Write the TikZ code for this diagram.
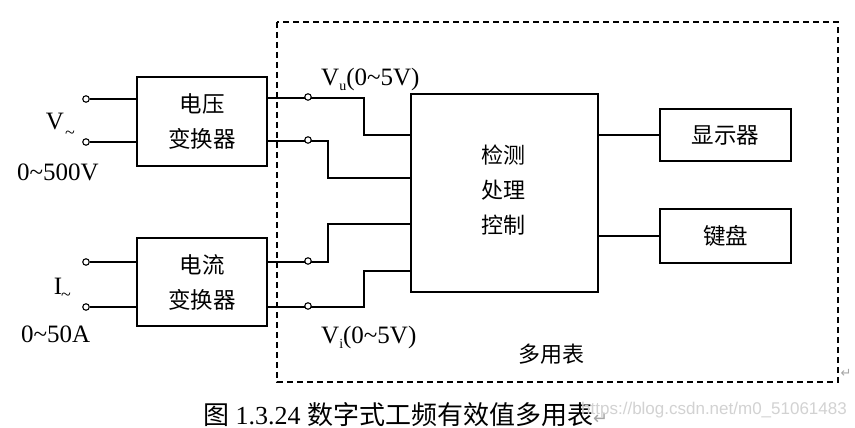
\documentclass[tikz,border=0pt]{standalone}
\usepackage{fontspec}
\setmainfont{Liberation Serif}
\newfontfamily\cjk{Noto Sans CJK SC}
\newfontfamily\symf{DejaVu Sans}
\newfontfamily\wmf{Liberation Sans}
\begin{document}
\begin{tikzpicture}[x=1pt,y=-1pt,
  box/.style={draw,line width=1.4pt,inner sep=0pt,align=center,font=\cjk\fontsize{22.5}{35}\selectfont},
  wire/.style={line width=1.4pt},
  term/.style={circle,draw,line width=1.1pt,fill=white,minimum size=6.5pt,inner sep=0pt},
  lat/.style={font=\fontsize{25}{27}\selectfont,inner sep=0pt},
  cjklab/.style={font=\cjk\fontsize{22}{24}\selectfont,inner sep=0pt}]
\useasboundingbox (0,0) rectangle (855,428);
\fill[white] (0,0) rectangle (855,428);
% outer dashed frame
\draw[line width=1.4pt,dash pattern=on 6pt off 4pt] (277,22) rectangle (838,382);
% boxes
\node[box,minimum width=130pt,minimum height=89pt] (vc) at (202,121.5) {电压\\变换器};
\node[box,minimum width=130pt,minimum height=88pt] (ic) at (202,282) {电流\\变换器};
\node[box,minimum width=187pt,minimum height=198pt] (mc) at (504.5,193) {};
\node[cjklab] (t1) at (503,155) {检测};
\node[cjklab] (t2) at (503,190) {处理};
\node[cjklab] (t3) at (503,225) {控制};
\node[box,minimum width=131pt,minimum height=52pt] (disp) at (725.5,135) {显示器};
\node[box,minimum width=131pt,minimum height=54pt] (kb) at (725.5,236) {键盘};
% input terminals
\node[term] (a1) at (86,99) {};
\node[term] (a2) at (86,142) {};
\node[term] (b1) at (86,262) {};
\node[term] (b2) at (86,307) {};
\draw[wire] (a1) -- (a1 -| vc.west);
\draw[wire] (a2) -- (a2 -| vc.west);
\draw[wire] (b1) -- (b1 -| ic.west);
\draw[wire] (b2) -- (b2 -| ic.west);
% output connections
\coordinate (p1) at (267,98);
\coordinate (p2) at (267,141);
\coordinate (p3) at (267,262);
\coordinate (p4) at (267,307);
\draw[wire] (p1) -- (364,98) -- (364,135) -- (mc.west |- 0,135);
\draw[wire] (p2) -- (328,141) -- (328,178) -- (mc.west |- 0,178);
\draw[wire] (p3) -- (328,262) -- (328,224) -- (mc.west |- 0,224);
\draw[wire] (p4) -- (364,307) -- (364,271) -- (mc.west |- 0,271);
\node[term] (c1) at (308,97) {};
\node[term] (c2) at (308,140) {};
\node[term] (c3) at (308,261) {};
\node[term] (c4) at (308,306) {};
\draw[wire] (mc.east |- disp.west) -- (disp.west);
\draw[wire] (mc.east |- kb.west) -- (kb.west);
% labels
\node[lat] (vl) at (55,122) {V};
\node[lat,font=\fontsize{18}{18}\selectfont] (vt) at (70,135) {\textasciitilde};
\node[lat,anchor=west] (vr) at (17,172) {0\textasciitilde500V};
\node[lat] (il) at (58,286) {I};
\node[lat,font=\fontsize{18}{18}\selectfont] (it) at (66,297) {\textasciitilde};
\node[lat,anchor=west] (ir) at (21,334) {0\textasciitilde50A};
\node[lat,anchor=west] (vu) at (321,79) {V\raisebox{-5pt}{\fontsize{14}{14}\selectfont u}(0\textasciitilde5V)};
\node[lat,anchor=west] (vi) at (321,337) {V\raisebox{-5pt}{\fontsize{14}{14}\selectfont i}(0\textasciitilde5V)};
\node[cjklab] (mu) at (551,354) {多用表};
\node[inner sep=0pt,text=gray!70,font=\symf\fontsize{13}{13}\selectfont] (rt) at (846,373) {↵};
% caption
\node[inner sep=0pt,anchor=west,font=\fontsize{26}{28}\selectfont] (cap) at (203,415) {{\cjk 图} 1.3.24 {\cjk 数字式工频有效值多用表}{\symf\fontsize{18}{18}\selectfont\color{gray!70}↵}};
\node[inner sep=0pt,anchor=east,text=gray!35,font=\wmf\fontsize{17}{17}\selectfont] (wm) at (847,410) {https://blog.csdn.net/m0\_51061483};
\end{tikzpicture}
\end{document}
